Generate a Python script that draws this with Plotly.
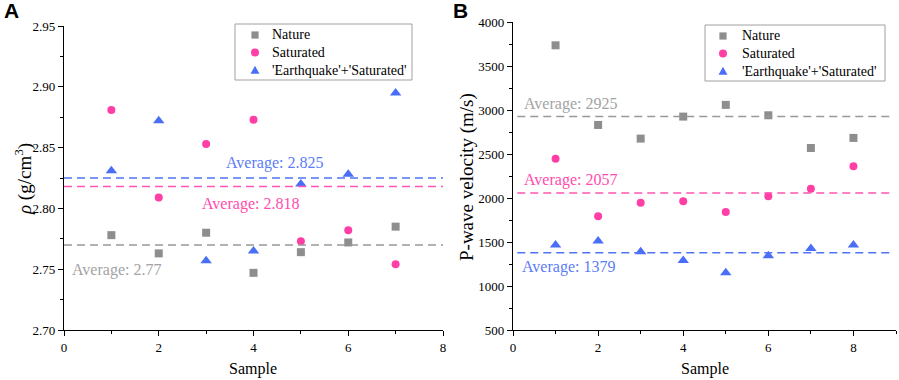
import plotly.graph_objects as go

# ---- data ----
samples_a = [1, 2, 3, 4, 5, 6, 7]
nature_a = [2.778, 2.763, 2.780, 2.747, 2.764, 2.772, 2.785]
saturated_a = [2.881, 2.809, 2.853, 2.873, 2.773, 2.782, 2.754]
quake_a = [2.831, 2.872, 2.757, 2.765, 2.820, 2.828, 2.895]
avg_a = {"nature": 2.77, "saturated": 2.818, "quake": 2.825}

samples_b = [1, 2, 3, 4, 5, 6, 7, 8]
nature_b = [3735, 2830, 2675, 2925, 3058, 2940, 2568, 2683]
saturated_b = [2445, 1792, 1945, 1963, 1842, 2020, 2105, 2360]
quake_b = [1465, 1510, 1390, 1290, 1150, 1345, 1425, 1465]
avg_b = {"nature": 2925, "saturated": 2057, "quake": 1379}

series_names = ["Nature", "Saturated", "'Earthquake'+'Saturated'"]

GRAY = "#8e8e8e"
PINK = "#ff3fa6"
BLUE = "#4a6ef5"
GRAY_T = "#a3a3a3"
PINK_T = "#ff4cae"
BLUE_T = "#5b7df6"
SERIF = "Liberation Serif"

W, H = 899, 380
def px_x(p): return p / W
def px_y(p): return 1 - p / H

fig = go.Figure()

SIZES = {"square": 8, "circle": 8, "triangle-up": 10}

def add_series(xs, ys, name, color, symbol, xa, ya):
    fig.add_trace(go.Scatter(
        x=xs, y=ys, mode="markers", name=name, xaxis=xa, yaxis=ya, showlegend=False,
        marker=dict(color=color, symbol=symbol, size=SIZES[symbol], line=dict(width=0)),
    ))

add_series(samples_a, nature_a, series_names[0], GRAY, "square", "x", "y")
add_series(samples_a, saturated_a, series_names[1], PINK, "circle", "x", "y")
add_series(samples_a, quake_a, series_names[2], BLUE, "triangle-up", "x", "y")
add_series(samples_b, nature_b, series_names[0], GRAY, "square", "x2", "y2")
add_series(samples_b, saturated_b, series_names[1], PINK, "circle", "x2", "y2")
add_series(samples_b, quake_b, series_names[2], BLUE, "triangle-up", "x2", "y2")

# average lines
shapes = []
for key, col in [("nature", "#999999"), ("saturated", "#ff55b3"), ("quake", "#4f74f5")]:
    shapes.append(dict(type="line", xref="x", yref="y", x0=0, x1=8, y0=avg_a[key], y1=avg_a[key],
                       line=dict(color=col, width=1.5, dash="8px,5px")))
    shapes.append(dict(type="line", xref="x2", yref="y2", x0=0.1, x1=8.85, y0=avg_b[key], y1=avg_b[key],
                       line=dict(color=col, width=1.5, dash="8px,5px")))

annotations = []
def avg_text(x, y, text, color, xr, yr):
    annotations.append(dict(x=x, y=y, xref=xr, yref=yr, text=text, showarrow=False,
                            xanchor="left", yanchor="middle",
                            font=dict(family=SERIF, size=16, color=color)))

avg_text(3.37, 2.837, f"Average: {avg_a['quake']}", BLUE_T, "x", "y")
avg_text(2.87, 2.804, f"Average: {avg_a['saturated']}", PINK_T, "x", "y")
avg_text(0.12, 2.749, f"Average: {avg_a['nature']}", GRAY_T, "x", "y")
avg_text(0.21, 3068, f"Average: {avg_b['nature']}", GRAY_T, "x2", "y2")
avg_text(0.21, 2205, f"Average: {avg_b['saturated']}", PINK_T, "x2", "y2")
avg_text(0.17, 1220, f"Average: {avg_b['quake']}", BLUE_T, "x2", "y2")

# axis titles and panel letters
def paper_text(xp, yp, text, size, angle=0, family=SERIF, color="black", xanchor="center"):
    annotations.append(dict(x=px_x(xp), y=px_y(yp), xref="paper", yref="paper", text=text,
                            showarrow=False, xanchor=xanchor, yanchor="middle", textangle=angle,
                            font=dict(family=family, size=size, color=color)))

paper_text(253, 369, "Sample", 16)
paper_text(705, 369, "Sample", 16)
paper_text(23, 179, "<i>ρ</i> (g/cm<sup>3</sup>)", 19, angle=-90)
paper_text(467, 177, "P-wave velocity (m/s)", 19, angle=-90)
paper_text(11, 11, "<b>A</b>", 21, family="Liberation Sans")
paper_text(460, 11, "<b>B</b>", 21, family="Liberation Sans")

# custom legends (box, symbols, labels) in figure pixels
def legend_box(x0, y0, x1, y1, sym_x, text_x, rows):
    shapes.append(dict(type="rect", xref="paper", yref="paper",
                       x0=px_x(x0), x1=px_x(x1), y0=px_y(y1), y1=px_y(y0),
                       line=dict(color="#a0a0a0", width=1), fillcolor="white", layer="above"))
    r = 3.6
    cy = rows[0]
    shapes.append(dict(type="rect", xref="paper", yref="paper", layer="above",
                       x0=px_x(sym_x - r), x1=px_x(sym_x + r), y0=px_y(cy + r), y1=px_y(cy - r),
                       line=dict(width=0), fillcolor=GRAY))
    cy = rows[1]
    r = 4
    shapes.append(dict(type="circle", xref="paper", yref="paper", layer="above",
                       x0=px_x(sym_x - r), x1=px_x(sym_x + r), y0=px_y(cy + r), y1=px_y(cy - r),
                       line=dict(width=0), fillcolor=PINK))
    cy = rows[2]
    path = (f"M {px_x(sym_x - 4.5)} {px_y(cy + 3.8)} L {px_x(sym_x + 4.5)} {px_y(cy + 3.8)} "
            f"L {px_x(sym_x)} {px_y(cy - 4.2)} Z")
    shapes.append(dict(type="path", xref="paper", yref="paper", layer="above", path=path,
                       line=dict(width=0), fillcolor=BLUE))
    for name, cy in zip(series_names, rows):
        paper_text(text_x, cy, name, 14, xanchor="left")

legend_box(235, 24, 412, 80, 255, 270, [35, 52.5, 70])
legend_box(705, 25, 885, 81, 723, 740, [36, 53.5, 71])

axis_common = dict(showline=True, linecolor="black", linewidth=1.3, ticks="outside",
                   ticklen=5, tickwidth=1.2, tickcolor="black", showgrid=False, zeroline=False,
                   tickfont=dict(family=SERIF, size=13, color="black"), automargin=False,
                   minor=dict(ticks="outside", ticklen=3, tickwidth=1.2, tickcolor="black", showgrid=False))

fig.update_layout(
    width=W, height=H, paper_bgcolor="white", plot_bgcolor="white",
    margin=dict(l=0, r=0, t=0, b=0), showlegend=False,
    xaxis=dict(domain=[px_x(64), px_x(443)], range=[0, 8], dtick=2, tick0=0,
               anchor="y", **axis_common),
    yaxis=dict(domain=[px_y(330), px_y(26)], range=[2.70, 2.95], dtick=0.05, tick0=2.70,
               tickformat=".2f", anchor="x", **axis_common),
    xaxis2=dict(domain=[px_x(513), px_x(896)], range=[0, 9], dtick=2, tick0=0,
                anchor="y2", **axis_common),
    yaxis2=dict(domain=[px_y(330), px_y(22)], range=[500, 4000], dtick=500, tick0=500,
                anchor="x2", **axis_common),
    shapes=shapes, annotations=annotations,
)
fig.update_xaxes(minor=dict(dtick=1))
fig.update_yaxes(minor=dict(dtick=0.025), selector=dict(anchor="x"))
fig.update_yaxes(minor=dict(dtick=250), selector=dict(anchor="x2"))

fig.write_html("out.html", config={"displayModeBar": False},
               post_script="document.body.style.margin='0';document.body.style.padding='0';"
                           "document.documentElement.style.overflow='hidden';")
